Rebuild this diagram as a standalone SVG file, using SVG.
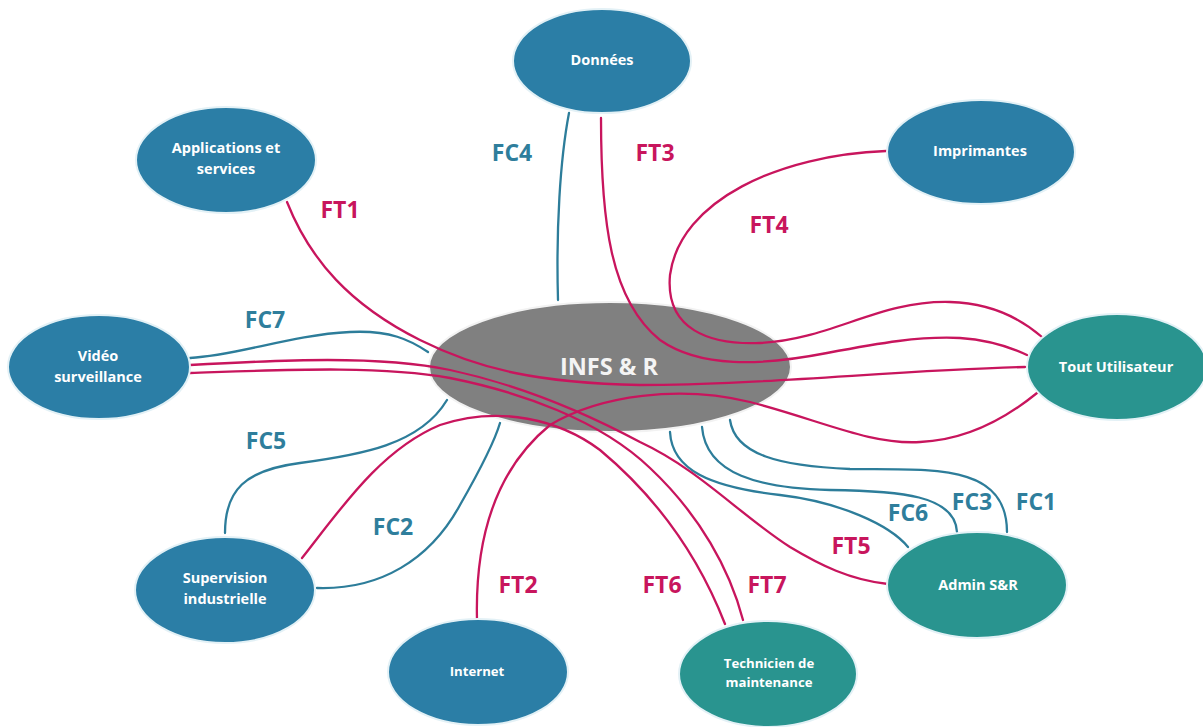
<svg xmlns="http://www.w3.org/2000/svg" width="1203" height="727" viewBox="0 0 1203 727">
  <style>
    .blue { fill: #2b7ea6; stroke: #e3f1f6; stroke-width: 2; }
    .teal { fill: #29948f; stroke: #e3f1f6; stroke-width: 2; }
    .core { fill: #808080; stroke: #f2f2f2; stroke-width: 2; }
    .nt { font-family: "Open Sans", "Liberation Sans", sans-serif; font-weight: 700; font-size: 14.5px; fill: #ffffff; text-anchor: middle; }
    .sm { font-size: 13.2px; }
    .ct { font-family: "Open Sans", "Liberation Sans", sans-serif; font-weight: 700; font-size: 23.5px; fill: #f4f4f4; text-anchor: middle; }
    .ft { fill: none; stroke: #c8155d; stroke-width: 2.3; stroke-linecap: round; }
    .fc { fill: none; stroke: #2d7d9a; stroke-width: 2.3; stroke-linecap: round; }
    .lft { font-family: "Open Sans", "Liberation Sans", sans-serif; font-weight: 700; font-size: 23px; fill: #c8155d; text-anchor: middle; }
    .lfc { font-family: "Open Sans", "Liberation Sans", sans-serif; font-weight: 700; font-size: 23px; fill: #2f7e9c; text-anchor: middle; }
  </style>

  <rect width="1203" height="727" fill="#ffffff"/>

  <!-- central system -->
  <g id="infs">
    <ellipse class="core" cx="610" cy="367" rx="181" ry="65"/>
  </g>

  <!-- flows -->
  <g id="connectors">
    <!-- FC links -->
    <path class="fc" d="M569,113 C560,160 556,230 558,300"/>
    <path class="fc" d="M190,358 C240,355 290,335 350,332 C390,330 410,340 428,352"/>
    <path class="fc" d="M225,533 C225,490 245,470 300,463 C360,455 420,445 447,400"/>
    <path class="fc" d="M317,588 C380,590 430,560 460,505 C480,470 495,440 500,423"/>
    <path class="fc" d="M670,432 C672,470 710,487 780,495 C840,502 890,525 908,547"/>
    <path class="fc" d="M702,427 C706,475 760,488 830,490 C900,491 955,495 957,532"/>
    <path class="fc" d="M730,420 C735,455 780,466 850,469 C930,470 1007,462 1007,532"/>

    <!-- FT links -->
    <path class="ft" d="M886,151 C780,155 680,200 670,275 C665,330 710,345 760,343 C830,340 880,300 950,302 C990,303 1020,318 1042,337"/>
    <path class="ft" d="M601,118 C601,220 610,300 660,340 C700,368 760,366 827,353 C880,343 920,336 960,338 C990,340 1010,347 1027,355"/>
    <path class="ft" d="M287,202 C310,260 350,305 420,340 C480,370 540,383 640,385 C760,385 900,370 1025,367"/>
    <path class="ft" d="M477,620 C475,540 495,470 550,425 C600,395 680,385 750,402 C820,420 870,445 920,442 C970,440 1010,415 1037,393"/>
    <path class="ft" d="M190,365 C280,360 380,355 450,370 C520,385 580,410 640,442 C700,470 740,515 790,547 C820,565 850,580 888,584"/>
    <path class="ft" d="M190,373 C280,370 380,365 450,378 C520,392 600,420 650,468 C700,515 730,570 743,620"/>
    <path class="ft" d="M302,558 C340,510 380,450 440,425 C500,405 560,420 600,450 C660,500 700,560 725,624"/>
  </g>

  <text class="ct" x="609" y="375">INFS &amp; R</text>

  <!-- flow labels -->
  <g id="labels">
    <text class="lfc" x="512" y="161">FC4</text>
    <text class="lft" x="655" y="161">FT3</text>
    <text class="lft" x="340" y="218">FT1</text>
    <text class="lft" x="769" y="233">FT4</text>
    <text class="lfc" x="265" y="328">FC7</text>
    <text class="lfc" x="266" y="449">FC5</text>
    <text class="lfc" x="393" y="535">FC2</text>
    <text class="lft" x="518" y="593">FT2</text>
    <text class="lft" x="662" y="593">FT6</text>
    <text class="lft" x="767" y="593">FT7</text>
    <text class="lft" x="851" y="554">FT5</text>
    <text class="lfc" x="908" y="521">FC6</text>
    <text class="lfc" x="972" y="510">FC3</text>
    <text class="lfc" x="1036" y="510">FC1</text>
  </g>

  <!-- actors -->
  <g id="donnees">
    <ellipse class="blue" cx="602" cy="61" rx="89" ry="52"/>
    <text class="nt" x="602" y="65">Données</text>
  </g>
  <g id="applications">
    <ellipse class="blue" cx="226" cy="160" rx="90" ry="53"/>
    <text class="nt" x="226" y="153">Applications et</text>
    <text class="nt" x="226" y="174">services</text>
  </g>
  <g id="imprimantes">
    <ellipse class="blue" cx="981" cy="152" rx="94" ry="52"/>
    <text class="nt" x="980" y="156">Imprimantes</text>
  </g>
  <g id="video">
    <ellipse class="blue" cx="99" cy="367" rx="91" ry="52"/>
    <text class="nt" x="98" y="361">Vidéo</text>
    <text class="nt" x="98" y="382">surveillance</text>
  </g>
  <g id="utilisateur">
    <ellipse class="teal" cx="1117" cy="367" rx="90" ry="53"/>
    <text class="nt" x="1116" y="372">Tout Utilisateur</text>
  </g>
  <g id="supervision">
    <ellipse class="blue" cx="225" cy="590" rx="90" ry="53"/>
    <text class="nt" x="225" y="583">Supervision</text>
    <text class="nt" x="225" y="604">industrielle</text>
  </g>
  <g id="internet">
    <ellipse class="blue" cx="478" cy="672" rx="90" ry="53"/>
    <text class="nt sm" x="477" y="676">Internet</text>
  </g>
  <g id="technicien">
    <ellipse class="teal" cx="768" cy="674" rx="89" ry="53"/>
    <text class="nt sm" x="769" y="668">Technicien de</text>
    <text class="nt sm" x="769" y="687">maintenance</text>
  </g>
  <g id="admin">
    <ellipse class="teal" cx="977" cy="585" rx="90" ry="53"/>
    <text class="nt" x="978" y="590">Admin S&amp;R</text>
  </g>
</svg>
